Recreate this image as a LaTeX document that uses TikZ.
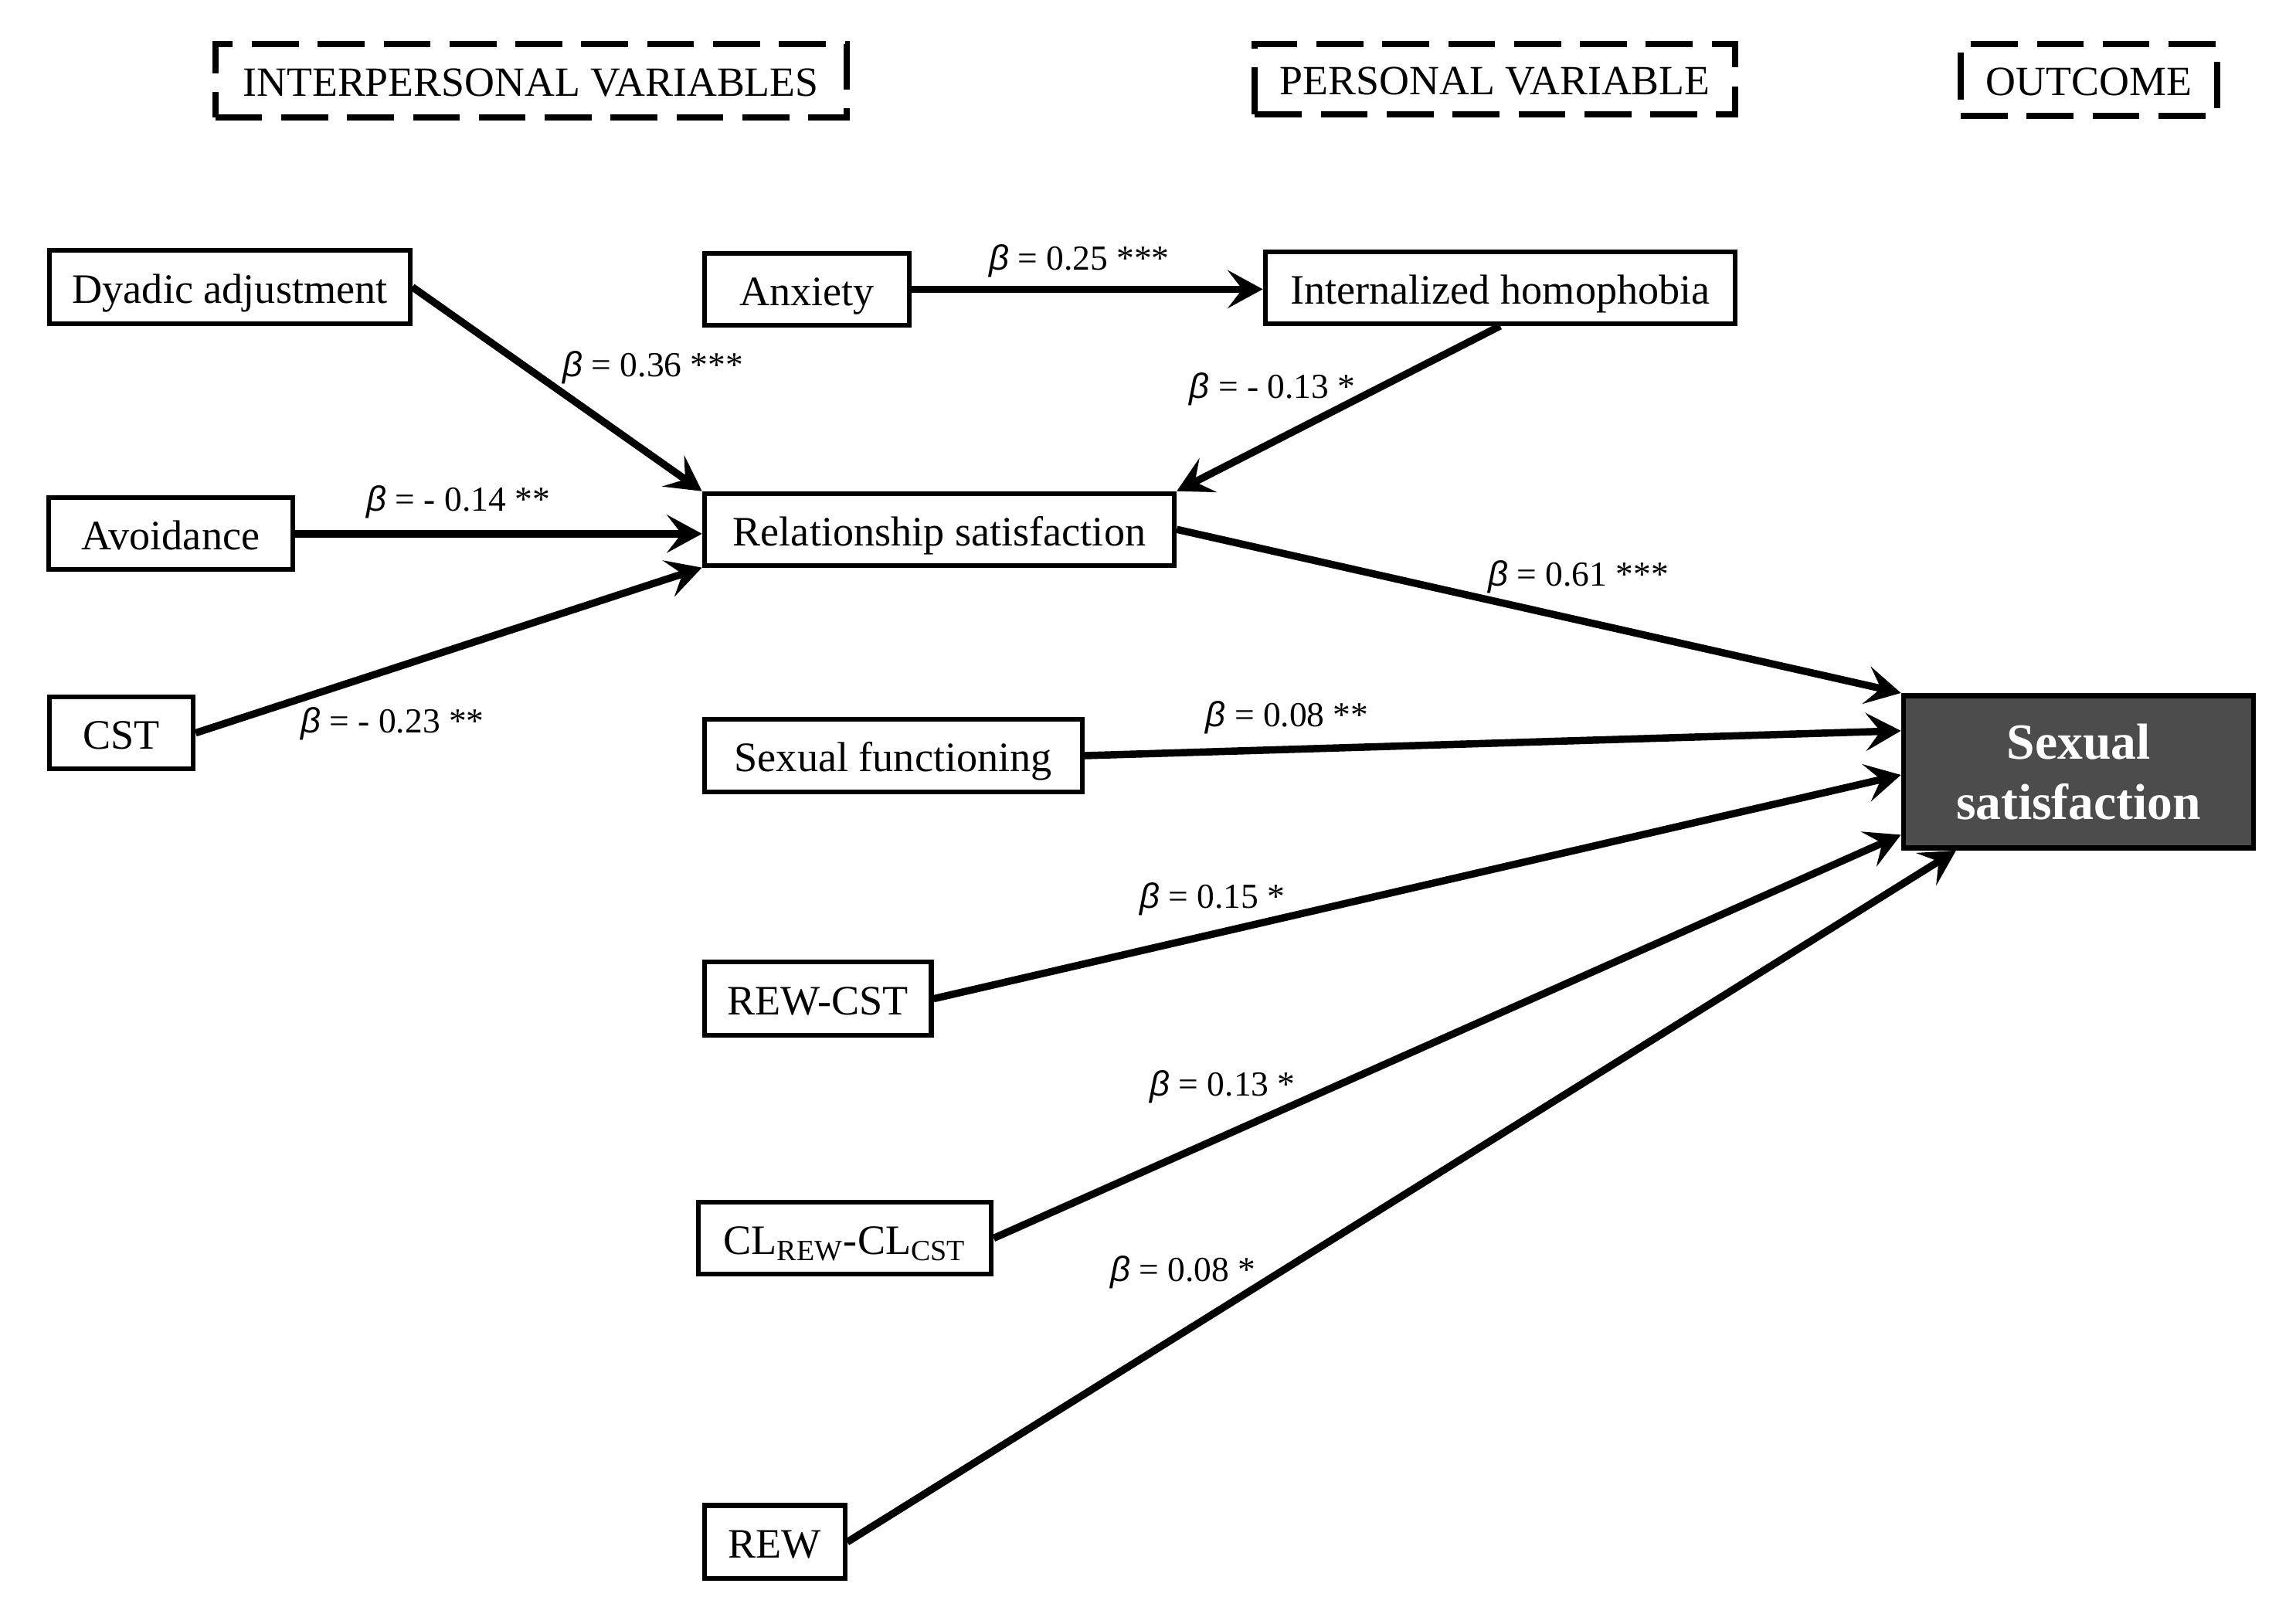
\documentclass[tikz,border=0pt]{standalone}
\usepackage{fontspec}
\setmainfont{Liberation Serif}
\newfontfamily\betafont{Liberation Sans}
\usetikzlibrary{arrows.meta,calc}
\newcommand{\bb}{{\betafont\itshape β}}
\tikzset{
  box/.style={draw, line width=1.6pt, inner sep=0pt, fill=white,
    text height=12pt, text depth=1pt,
    font=\fontsize{14.3}{16}\selectfont},
  hdr/.style={draw, line width=2.1pt, dash pattern=on 16pt off 6.5pt, inner sep=0pt,
    text height=11.5pt, text depth=1pt,
    font=\fontsize{14.2}{16}\selectfont},
  conn/.style={line width=2.5pt, -{Stealth[length=12pt,width=13pt,inset=5pt]}},
  coef/.style={font=\fontsize{12}{14}\selectfont, inner sep=0pt},
  outcomebox/.style={draw, line width=1.8pt, fill=black!70, text=white, align=center,
    inner sep=0pt, font=\fontsize{17.3}{20.5}\selectfont\bfseries},
}
\begin{document}
\begin{tikzpicture}[x=0.5pt,y=-0.5pt]
\useasboundingbox (0,0) rectangle (1568,1102);
% headers
\node[hdr, minimum width=215.5pt, minimum height=25pt] (hinter) at (362.5,55) {INTERPERSONAL VARIABLES};
\node[hdr, minimum width=164pt, minimum height=24pt] (hpers) at (1021,54) {PERSONAL VARIABLE};
\node[hdr, minimum width=87.5pt, minimum height=24.5pt] (hout) at (1426.5,54.5) {OUTCOME};
% boxes
\node[box, minimum width=123pt, minimum height=25pt] (dyad) at (157,196) {Dyadic adjustment};
\node[box, minimum width=70pt, minimum height=24.5pt] (anx) at (551,197.5) {Anxiety};
\node[box, minimum width=160.5pt, minimum height=24.5pt] (ih) at (1024.5,196.5) {Internalized homophobia};
\node[box, minimum width=83.5pt, minimum height=24.5pt] (avoid) at (116.5,364.5) {Avoidance};
\node[box, minimum width=160.5pt, minimum height=24.5pt] (rel) at (641.5,361.5) {Relationship satisfaction};
\node[box, minimum width=49pt, minimum height=24.5pt] (cst) at (83,500.5) {CST};
\node[box, minimum width=129pt, minimum height=25pt] (sexf) at (610,516) {Sexual functioning};
\node[box, minimum width=77.5pt, minimum height=25pt] (rewcst) at (558.5,682) {REW-CST};
\node[box, minimum width=100pt, minimum height=24.5pt] (cl) at (577,845.5) {CL\textsubscript{REW}-CL\textsubscript{CST}};
\node[box, minimum width=48pt, minimum height=25pt] (rew) at (529,1053) {REW};
\node[outcomebox, minimum width=119.5pt, minimum height=52pt] (ss) at (1419.5,527) {Sexual\\satisfaction};
% connectors
\draw[conn] (dyad.east) -- (rel.north west);
\draw[conn] (avoid.east) -- (avoid.east -| rel.west);
\draw[conn] (cst.east) -- (rel.south west);
\draw[conn] (anx.east) -- (anx.east -| ih.west);
\draw[conn] (ih.south) -- (rel.north east);
\draw[conn] (rel.east) -- (ss.north west);
\draw[conn] (sexf.east) -- ($(ss.north west)!0.24!(ss.south west)$);
\draw[conn] (rewcst.east) -- ($(ss.north west)!0.52!(ss.south west)$);
\draw[conn] (cl.east) -- ($(ss.north west)!0.9!(ss.south west)$);
\draw[conn] (rew.east) -- ($(ss.south west)!0.155!(ss.south east)$);
% coefficients
\node[coef] (c1) at (446,251) {\bb{} = 0.36 ***};
\node[coef] (c2) at (313,343) {\bb{} = - 0.14 **};
\node[coef] (c3) at (268,494) {\bb{} = - 0.23 **};
\node[coef] (c4) at (737,178) {\bb{} = 0.25 ***};
\node[coef] (c5) at (869,266) {\bb{} = - 0.13 *};
\node[coef] (c6) at (1078,394) {\bb{} = 0.61 ***};
\node[coef] (c7) at (879,490) {\bb{} = 0.08 **};
\node[coef] (c8) at (828,614) {\bb{} = 0.15 *};
\node[coef] (c9) at (835,742) {\bb{} = 0.13 *};
\node[coef] (c10) at (808,869) {\bb{} = 0.08 *};
\end{tikzpicture}
\end{document}
